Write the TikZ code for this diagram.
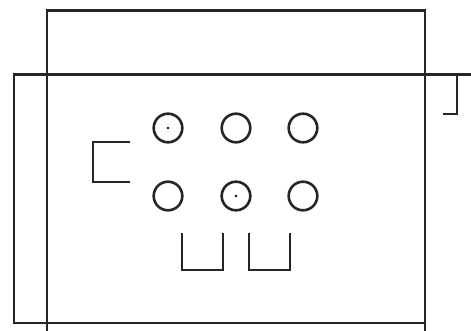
\documentclass[tikz,border=0pt]{standalone}
\begin{document}
\begin{tikzpicture}[x=1pt,y=-1pt,
  wall/.style={draw=black!85,line width=2.3pt,line join=miter},
  hole/.style={draw=black!85,line width=2.6pt},
  pin/.style={fill=black}]
\useasboundingbox[fill=white] (0,0) rectangle (471,331);
% tall rectangle (open at bottom)
\draw[wall] (47,331) -- (47,10.5) -- (425,10.5) -- (425,331);
% wide rectangle
\draw[wall] (471,74.5) -- (14,74.5) -- (14,323) -- (425,323);
% right bracket
\draw[wall] (457,74.5) -- (457,114) -- (443,114);
% left bracket
\draw[wall] (130,142) -- (93,142) -- (93,182) -- (130,182);
% circles
\foreach \x in {168,236,303}{
  \draw[hole] (\x,128) circle (14.3);
  \draw[hole] (\x,196) circle (14.3);
}
\fill[pin] (168,128) circle (1.3);
\fill[pin] (236,196) circle (1.3);
% U shapes
\draw[wall] (182,233) -- (182,270) -- (223,270) -- (223,233);
\draw[wall] (249,233) -- (249,270) -- (290,270) -- (290,233);
\end{tikzpicture}
\end{document}
